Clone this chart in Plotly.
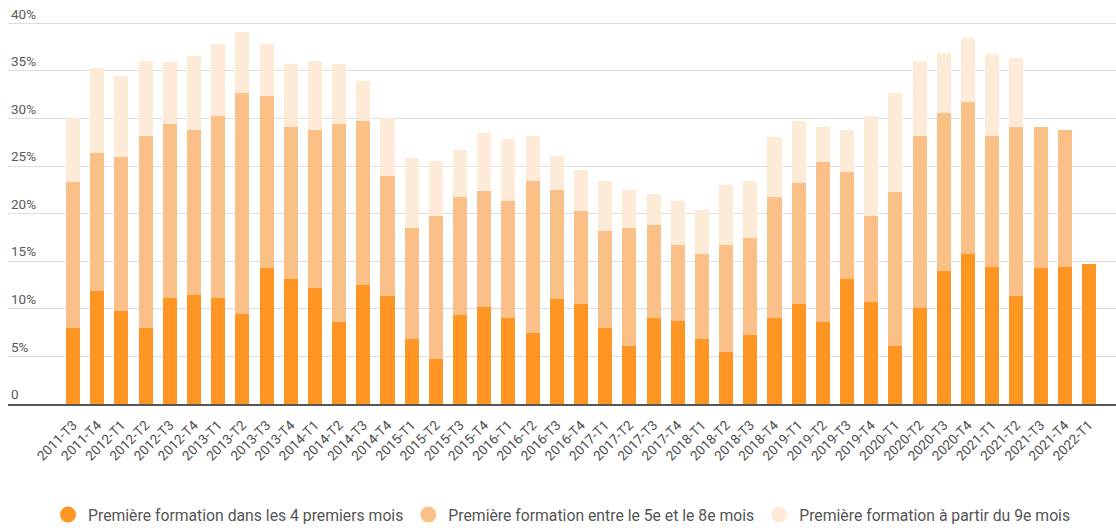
import plotly.graph_objects as go

# Quarters on the x axis
quarters = [
    "2011-T3", "2011-T4",
    "2012-T1", "2012-T2", "2012-T3", "2012-T4",
    "2013-T1", "2013-T2", "2013-T3", "2013-T4",
    "2014-T1", "2014-T2", "2014-T3", "2014-T4",
    "2015-T1", "2015-T2", "2015-T3", "2015-T4",
    "2016-T1", "2016-T2", "2016-T3", "2016-T4",
    "2017-T1", "2017-T2", "2017-T3", "2017-T4",
    "2018-T1", "2018-T2", "2018-T3", "2018-T4",
    "2019-T1", "2019-T2", "2019-T3", "2019-T4",
    "2020-T1", "2020-T2", "2020-T3", "2020-T4",
    "2021-T1", "2021-T2", "2021-T3", "2021-T4",
    "2022-T1",
]

# Share (%) of people whose first training starts in the first 4 months
first_4_months = [
    8.0, 11.9, 9.8, 8.0, 11.1, 11.5, 11.1, 9.5, 14.3, 13.1,
    12.2, 8.6, 12.5, 11.3, 6.8, 4.7, 9.3, 10.2, 9.0, 7.5,
    11.0, 10.5, 8.0, 6.1, 9.0, 8.7, 6.8, 5.5, 7.3, 9.0,
    10.5, 8.6, 13.1, 10.7, 6.1, 10.1, 14.0, 15.8, 14.4, 11.3,
    14.3, 14.4, 14.7,
]

# Additional share (%) starting between the 5th and 8th month
months_5_to_8 = [
    15.3, 14.5, 16.2, 20.2, 18.3, 17.3, 19.2, 23.2, 18.1, 16.0,
    16.6, 20.8, 17.2, 12.7, 11.7, 15.0, 12.4, 12.2, 12.3, 15.9,
    11.5, 9.8, 10.2, 12.4, 9.8, 8.0, 9.0, 11.2, 10.1, 12.7,
    12.7, 16.8, 11.3, 9.0, 16.2, 18.1, 16.6, 15.9, 13.8, 17.8,
    14.8, 14.4, None,
]

# Additional share (%) starting from the 9th month on
from_month_9 = [
    6.7, 8.9, 8.5, 7.8, 6.5, 7.8, 7.5, 6.4, 5.4, 6.6,
    7.2, 6.3, 4.2, 6.0, 7.3, 5.8, 5.0, 6.1, 6.5, 4.8,
    3.6, 4.3, 5.2, 4.0, 3.3, 4.6, 4.6, 6.3, 6.0, 6.3,
    6.5, 3.7, 4.4, 10.6, 10.4, 7.8, 6.3, 6.7, 8.6, 7.3,
    None, None, None,
]

series_names = [
    "Première formation dans les 4 premiers mois",
    "Première formation entre le 5e et le 8e mois",
    "Première formation à partir du 9e mois",
]
series_colors = ["#FF9623", "#FAC088", "#FDEBD8"]

y_tick_vals = [0, 5, 10, 15, 20, 25, 30, 35, 40]
y_tick_text = ["0", "5%", "10%", "15%", "20%", "25%", "30%", "35%", "40%"]

fig = go.Figure()

for name, values, color in zip(series_names,
                               [first_4_months, months_5_to_8, from_month_9],
                               series_colors):
    fig.add_trace(go.Bar(
        x=quarters, y=values, name=name,
        marker=dict(color=color, line=dict(width=0)),
        showlegend=False,
    ))

# Round legend swatches
for name, color in zip(series_names, series_colors):
    fig.add_trace(go.Scatter(
        x=[None], y=[None], mode="markers", name=name,
        marker=dict(color=color, size=20, symbol="circle"),
        showlegend=True,
    ))

fig.update_layout(
    width=1116, height=528,
    margin=dict(l=8, r=0, t=8, b=124, autoexpand=False),
    barmode="stack",
    bargap=0.42,
    plot_bgcolor="white",
    paper_bgcolor="white",
    font=dict(family="Roboto", size=13, color="#5f5f5f"),
    legend=dict(
        orientation="h",
        traceorder="normal",
        x=0.5, xanchor="center",
        y=-0.28, yanchor="middle",
        font=dict(family="Roboto", size=15.75, color="#555555"),
        itemsizing="trace",
    ),
    xaxis=dict(
        type="category",
        categoryorder="array", categoryarray=quarters,
        range=[-2.69, 43.12],
        tickangle=-45,
        tickfont=dict(family="Roboto", size=13.5, color="#4f4f4f"),
        ticklabelstandoff=6,
        showgrid=False,
        showline=True, linecolor="#555555", linewidth=2,
        ticks="",
        fixedrange=True,
    ),
    yaxis=dict(
        range=[0, 41.6],
        tickvals=y_tick_vals, ticktext=y_tick_text,
        ticklabelposition="inside top",
        ticklabeloverflow="allow",
        tickfont=dict(family="Roboto", size=13.5, color="#5a5a5a"),
        showgrid=True, gridcolor="#dedede", gridwidth=1,
        zeroline=False,
        showline=False,
        ticks="",
        fixedrange=True,
    ),
)

fig.write_html("out.html")
